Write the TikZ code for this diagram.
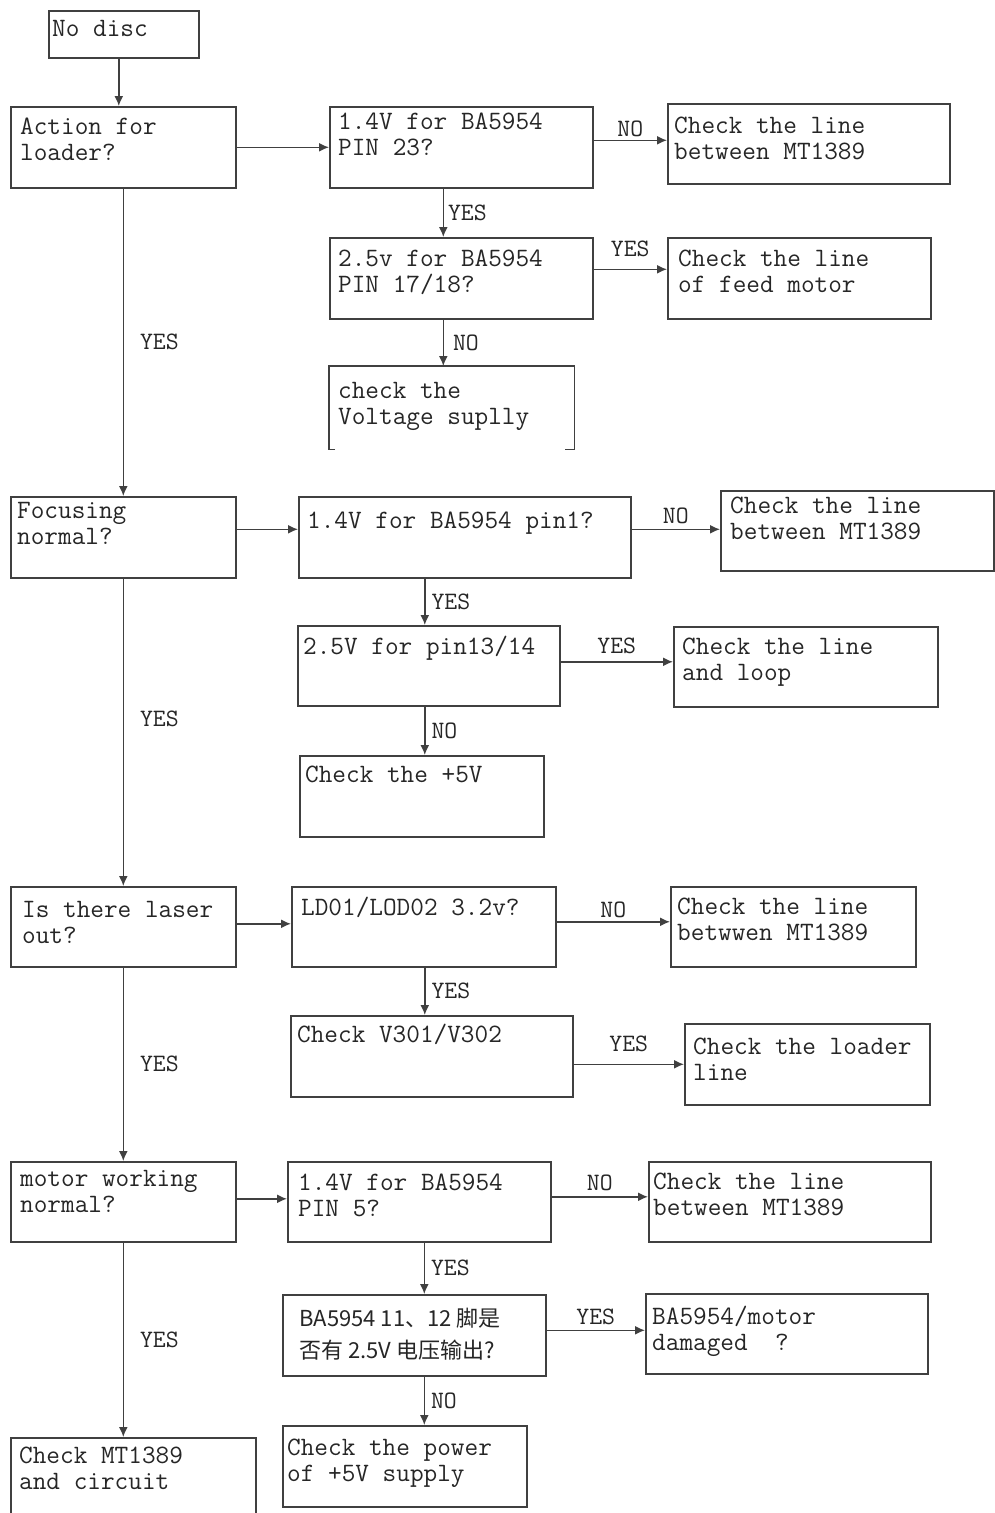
\documentclass[tikz,border=0pt]{standalone}
\usepackage{fontspec}
\setmonofont{Latin Modern Mono}
\newfontfamily\cjk{Noto Sans CJK SC}
\usepackage{tikz}
\usetikzlibrary{arrows.meta, positioning, calc}

\begin{document}
\begin{tikzpicture}[
  x=1pt, y=-1pt,
  box/.style 2 args={
    rectangle, draw=black!75, line width=1.6pt,
    minimum width=#1, minimum height=#2,
    inner sep=0pt, anchor=north west,
  },
  txt/.style 2 args={
    anchor=north west, inner sep=0pt, align=left,
    xshift=#1, yshift=-#2,
    font=\ttfamily\fontsize{26.5}{26}\selectfont, text=black!85,
  },
  flow/.style={-{Latex[length=10pt,width=9pt]}, line width=1.6pt, draw=black!75},
  answer/.style={font=\ttfamily\fontsize{25}{26}\selectfont, text=black!85, inner sep=3pt},
]
  \path[use as bounding box, fill=white] (0,0) rectangle (994,1513);

  % loader
  \node[box={150pt}{47pt}, label={[txt={4pt}{10pt}]north west:No disc}] (start) at (48,10) {};
  \node[box={225pt}{81pt}, label={[txt={10pt}{12pt}]north west:Action for\\loader?}] (q1) at (10,106) {};
  \node[box={263pt}{81pt}, label={[txt={9pt}{7pt}]north west:1.4V for BA5954\\PIN 23?}] (q1a) at (329,106) {};
  \node[box={282pt}{80pt}, label={[txt={7pt}{14pt}]north west:Check the line\\between MT1389}] (q1n) at (667,103) {};
  \node[box={263pt}{81pt}, label={[txt={9pt}{13pt}]north west:2.5v for BA5954\\PIN 17/18?}] (q1b) at (329,237) {};
  \node[box={263pt}{81pt}, label={[txt={11pt}{13pt}]north west:Check the line\\of feed motor}] (q1y) at (667,237) {};
  \node[box={244pt}{82pt}, draw=none, label={[txt={9pt}{16pt}]north west:check the\\Voltage suplly}] (q1c) at (329,366) {};
  \draw[draw=black!75, line width=1.6pt] ([xshift=6pt]q1c.south west) -- (q1c.south west) -- (q1c.north west)
    -- (q1c.north east) -- (q1c.south east) -- ([xshift=-10pt]q1c.south east);

  % focusing
  \node[box={225pt}{81pt}, label={[txt={7pt}{6pt}]north west:Focusing\\normal?}] (q2) at (10,496) {};
  \node[box={332pt}{81pt}, label={[txt={9pt}{16pt}]north west:1.4V for BA5954 pin1?}] (q2a) at (298,496) {};
  \node[box={273pt}{80pt}, label={[txt={10pt}{7pt}]north west:Check the line\\between MT1389}] (q2n) at (720,490) {};
  \node[box={262pt}{80pt}, label={[txt={6pt}{11pt}]north west:2.5V for pin13/14}] (q2b) at (297,625) {};
  \node[box={264pt}{80pt}, label={[txt={9pt}{12pt}]north west:Check the line\\and loop}] (q2y) at (673,626) {};
  \node[box={244pt}{81pt}, label={[txt={6pt}{11pt}]north west:Check the +5V}] (q2c) at (299,755) {};

  % laser
  \node[box={225pt}{80pt}, label={[txt={12pt}{15pt}]north west:Is there laser\\out?}] (q3) at (10,886) {};
  \node[box={264pt}{80pt}, label={[txt={10pt}{11pt}]north west:LD01/LOD02 3.2v?}] (q3a) at (291,886) {};
  \node[box={245pt}{80pt}, label={[txt={7pt}{12pt}]north west:Check the line\\betwwen MT1389}] (q3n) at (670,886) {};
  \node[box={282pt}{81pt}, label={[txt={7pt}{9pt}]north west:Check V301/V302}] (q3b) at (290,1015) {};
  \node[box={245pt}{81pt}, label={[txt={9pt}{15pt}]north west:Check the loader\\line}] (q3y) at (684,1023) {};

  % motor
  \node[box={225pt}{80pt}, label={[txt={10pt}{9pt}]north west:motor working\\normal?}] (q4) at (10,1161) {};
  \node[box={263pt}{80pt}, label={[txt={11pt}{13pt}]north west:1.4V for BA5954\\PIN 5?}] (q4a) at (287,1161) {};
  \node[box={282pt}{80pt}, label={[txt={5pt}{12pt}]north west:Check the line\\between MT1389}] (q4n) at (648,1161) {};
  \node[box={263pt}{81pt}, label={[txt={17pt}{14pt}, font=\cjk\fontsize{22}{32}\selectfont]north west:BA5954 11、12 脚是\\否有 2.5V 电压输出?}] (q4b) at (282,1294) {};
  \node[box={282pt}{80pt}, label={[txt={7pt}{13pt}]north west:BA5954/motor\\damaged\ \ ?}] (q4y) at (645,1293) {};
  \node[box={244pt}{81pt}, label={[txt={5pt}{14pt}]north west:Check the power\\of +5V supply}] (q4c) at (282,1425) {};
  \node[box={245pt}{100pt}, label={[txt={9pt}{10pt}]north west:Check MT1389\\and circuit}] (fin) at (10,1437) {};

  % connectors
  \draw[flow] ([xshift=-5pt]start.south) -- ([xshift=-5pt]start.south |- q1.north);
  \draw[flow] (q1.east) -- (q1.east -| q1a.west);
  \draw[flow] ([yshift=7pt]q1a.east) -- ([yshift=7pt]q1a.east -| q1n.west) node[midway, above, answer] {NO};
  \draw[flow] ([xshift=-18pt]q1a.south) -- ([xshift=-18pt]q1a.south |- q1b.north) node[midway, right=1pt, answer] {YES};
  \draw[flow] ([yshift=9pt]q1b.east) -- ([yshift=9pt]q1b.east -| q1y.west) node[midway, above=9pt, answer] {YES};
  \draw[flow] ([xshift=-18pt]q1b.south) -- ([xshift=-18pt]q1b.south |- q1c.north) node[midway, right=6pt, answer] {NO};
  \draw[flow] (q1.south) -- (q1.south |- q2.north) node[midway, right=13pt, answer] {YES};

  \draw[flow] ([yshift=8pt]q2.east) -- ([yshift=8pt]q2.east -| q2a.west);
  \draw[flow] ([yshift=8pt]q2a.east) -- ([yshift=8pt]q2a.east -| q2n.west) node[midway, above=2pt, answer] {NO};
  \draw[flow] ([xshift=-40pt]q2a.south) -- ([xshift=-40pt]q2a.south |- q2b.north) node[midway, right=3pt, answer] {YES};
  \draw[flow] ([yshift=4pt]q2b.east) -- ([yshift=4pt]q2b.east -| q2y.west) node[midway, above=4pt, answer] {YES};
  \draw[flow] ([xshift=-4pt]q2b.south) -- ([xshift=-4pt]q2b.south |- q2c.north) node[midway, right=3pt, answer] {NO};
  \draw[flow] (q2.south) -- (q2.south |- q3.north) node[midway, above right=2pt and 13pt, answer] {YES};

  \draw[flow] ([yshift=3pt]q3.east) -- ([yshift=3pt]q3.east -| q3a.west);
  \draw[flow] ([yshift=5pt]q3a.east) -- ([yshift=5pt]q3a.east -| q3n.west) node[midway, above, answer] {NO};
  \draw[flow] ([xshift=1pt]q3a.south) -- ([xshift=1pt]q3a.south |- q3b.north) node[midway, right=3pt, answer] {YES};
  \draw[flow] ([yshift=-8pt]q3b.east) -- ([yshift=-8pt]q3b.east -| q3y.west) node[midway, above=9pt, answer] {YES};
  \draw[flow] (q3.south) -- (q3.south |- q4.north) node[midway, right=13pt, answer] {YES};

  \draw[flow] ([yshift=3pt]q4.east) -- ([yshift=3pt]q4.east -| q4a.west);
  \draw[flow] ([yshift=5pt]q4a.east) -- ([yshift=5pt]q4a.east -| q4n.west) node[midway, above=2pt, answer] {NO};
  \draw[flow] ([xshift=5pt]q4a.south) -- ([xshift=5pt]q4a.south |- q4b.north) node[midway, right=3pt, answer] {YES};
  \draw[flow] ([yshift=5pt]q4b.east) -- ([yshift=5pt]q4b.east -| q4y.west) node[midway, above=2pt, answer] {YES};
  \draw[flow] ([xshift=10pt]q4b.south) -- ([xshift=10pt]q4b.south |- q4c.north) node[midway, right=3pt, answer] {NO};
  \draw[flow] (q4.south) -- (q4.south |- fin.north) node[midway, right=13pt, answer] {YES};
\end{tikzpicture}
\end{document}
